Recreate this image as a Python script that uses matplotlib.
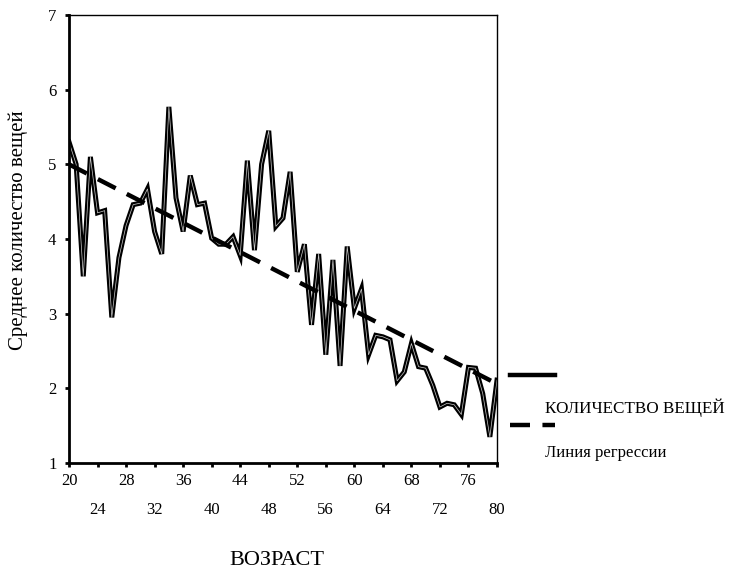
import matplotlib.pyplot as plt
from matplotlib.lines import Line2D
from matplotlib.ticker import FixedLocator

plt.rcParams['font.family'] = ['Liberation Serif', 'DejaVu Serif']

# mean count of items by age
ages = list(range(20, 81))
counts = [5.3, 5.0, 3.5, 5.1, 4.35, 4.38, 2.95, 3.75, 4.18, 4.46,
          4.48, 4.67, 4.1, 3.8, 5.77, 4.55, 4.1, 4.85, 4.46, 4.48,
          4.01, 3.93, 3.93, 4.03, 3.78, 5.05, 3.85, 5.0, 5.45, 4.17,
          4.28, 4.9, 3.56, 3.93, 2.85, 3.8, 2.45, 3.72, 2.3, 3.9,
          3.07, 3.33, 2.45, 2.71, 2.69, 2.65, 2.1, 2.22, 2.6, 2.29,
          2.27, 2.04, 1.75, 1.8, 1.78, 1.65, 2.28, 2.27, 1.93, 1.35,
          2.11]

# regression line end points
reg_x = [20, 80]
reg_y = [5.0, 2.06]

fig = plt.figure(figsize=(7.29, 5.71), dpi=100)
ax = fig.add_axes([69/729, 1-463/571, (497-69)/729, (463-15)/571])

ax.plot(ages, counts, color='black', lw=3.6, solid_joinstyle='miter')
ax.plot(ages, counts, color='white', lw=0.5, alpha=0.8)
ax.plot(reg_x, reg_y, color='black', lw=3.2, dashes=(4.5, 2.8))

ax.set_xlim(20, 80)
ax.set_ylim(1, 7)
ax.set_yticks([1, 2, 3, 4, 5, 6, 7])
ax.xaxis.set_major_locator(FixedLocator(list(range(20, 80, 8))))
ax.xaxis.set_minor_locator(FixedLocator(list(range(24, 81, 8))))
ax.set_xticklabels([str(v) for v in range(20, 80, 8)])
ax.set_xticklabels([str(v) for v in range(24, 81, 8)], minor=True)
ax.tick_params(axis='x', which='major', length=3, width=2, pad=4, labelsize=12)
ax.tick_params(axis='x', which='minor', length=3, width=2, pad=25, labelsize=12)
ax.tick_params(axis='y', length=3, width=2, pad=6, labelsize=12)

ax.spines['left'].set_linewidth(2)
ax.spines['bottom'].set_linewidth(2)
ax.spines['top'].set_linewidth(1)
ax.spines['right'].set_linewidth(1)

fig.text(18/729, 1-230/571, 'Среднее количество вещей', rotation=90,
         ha='center', va='center', fontsize=15)
fig.text(277/729, 1-565/571, 'ВОЗРАСТ', ha='center', va='baseline', fontsize=16)

# legend drawn by hand on the figure
fig.add_artist(Line2D([510/729, 555/729], [1-375/571, 1-375/571],
                      color='black', lw=3.2))
fig.add_artist(Line2D([510/729, 555/729], [1-425/571, 1-425/571],
                      color='black', lw=3.2, dashes=(4.5, 2.8)))
fig.text(545/729, 1-408/571, 'КОЛИЧЕСТВО ВЕЩЕЙ', ha='left', va='center', fontsize=12.3)
fig.text(545/729, 1-453/571, 'Линия регрессии', ha='left', va='center', fontsize=12)

fig.savefig('out.png', dpi=100)
